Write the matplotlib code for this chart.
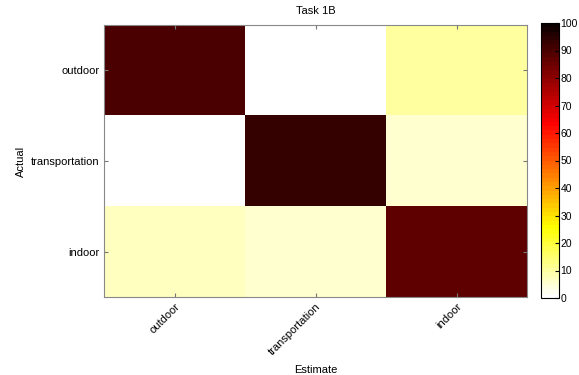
import numpy as np
import matplotlib
matplotlib.use('Agg')
from matplotlib import pyplot as plt
from matplotlib.colors import ListedColormap

plt.rcParams['font.family'] = ['Liberation Sans', 'DejaVu Sans']

classes = ['outdoor', 'transportation', 'indoor']
# rows = actual, cols = estimate (percent)
row_outdoor = [90, 0, 10]
row_transportation = [0, 93, 6]
row_indoor = [7, 5.5, 86]
cbar_ticks = [0, 10, 20, 30, 40, 50, 60, 70, 80, 90, 100]

conf = np.array([row_outdoor, row_transportation, row_indoor])

# matlab style hot(64), flipped so 0 is white
m = 64
n = int(3 / 8 * m)
i = np.arange(1, m + 1)
r = np.clip(i / n, 0, 1)
g = np.clip((i - n) / n, 0, 1)
b = np.clip((i - 2 * n) / (m - 2 * n), 0, 1)
hot = np.column_stack([r, g, b])[::-1]
cmap = ListedColormap(hot)

fig = plt.figure(figsize=(5.79, 3.75), dpi=100)
ax = fig.add_axes([104/579, 1-297/375, 423/579, 272/375])
cax = fig.add_axes([541/579, 1-298/375, 18/579, 275/375])

im = ax.imshow(conf, cmap=cmap, vmin=0, vmax=100, aspect='auto',
               interpolation='nearest')

ax.set_xticks(range(3))
ax.set_yticks(range(3))
ax.set_xticklabels(classes, rotation=45, ha='right', rotation_mode='anchor', fontsize=8)
ax.set_yticklabels(classes, fontsize=8)
ax.tick_params(direction='in', top=True, right=True, length=3, color='#777777', pad=3)
for s in ax.spines.values():
    s.set_color('#888888')
    s.set_linewidth(0.8)
ax.set_xlabel('Estimate', fontsize=8, labelpad=6)
ax.set_ylabel('Actual', fontsize=8, labelpad=4)
ax.set_title('Task 1B', fontsize=8, pad=8)

cb = fig.colorbar(im, cax=cax, ticks=cbar_ticks)
cb.ax.tick_params(labelsize=7.5, direction='in', length=3, pad=1)
cb.outline.set_linewidth(0.8)

fig.savefig('out.png', dpi=100)
